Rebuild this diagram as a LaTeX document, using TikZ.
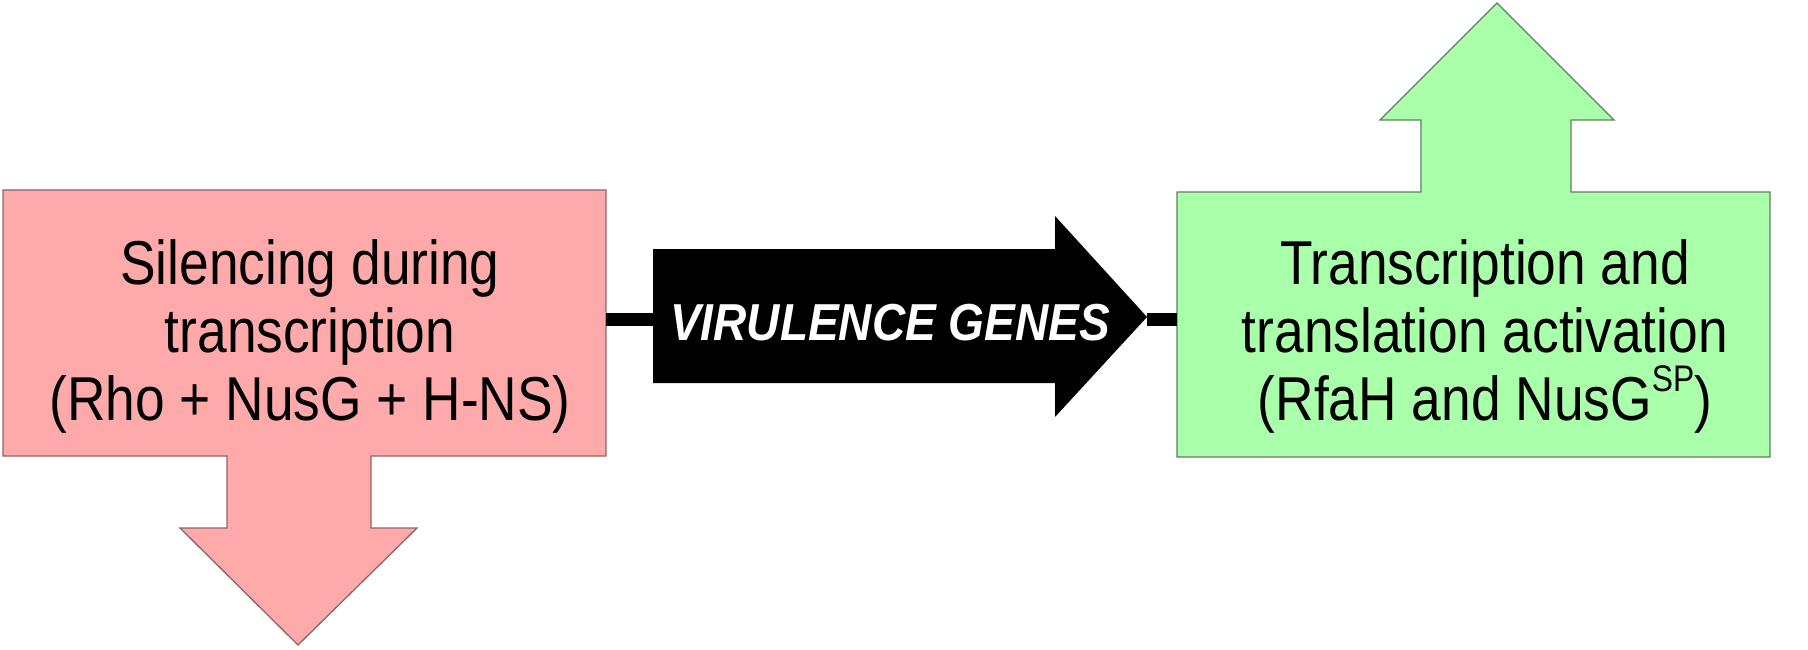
\documentclass[tikz,border=0pt]{standalone}
\usepackage{fontspec}
\setmainfont{Liberation Sans}[FakeStretch=0.86]
\newfontfamily\genefont{Liberation Sans}[FakeStretch=0.885]
\definecolor{pinkfill}{HTML}{FFAAAA}
\definecolor{pinkline}{HTML}{8C6464}
\definecolor{greenfill}{HTML}{AAFFAA}
\definecolor{greenline}{HTML}{5F7F5F}
\begin{document}
\begin{tikzpicture}[x=1pt,y=-1pt,
  pinkshape/.style={fill=pinkfill,draw=pinkline,line width=1.3pt,line join=miter},
  greenshape/.style={fill=greenfill,draw=greenline,line width=1.3pt,line join=miter},
  blackshape/.style={fill=black,draw=none},
  connector/.style={draw=black,line width=13pt,line cap=butt},
  boxframe/.style={draw=none,inner sep=0pt,outer sep=0pt},
  boxtext/.style={align=center,inner sep=0pt,font=\fontsize{62}{68}\selectfont},
  genetext/.style={inner sep=0pt,text=white,font=\genefont\bfseries\itshape\fontsize{52}{60}\selectfont}
]
\useasboundingbox (0,0) rectangle (1808,650);

% left pink box with downward arrow
\path[pinkshape] (3,190) -- (606,190) -- (606,456) -- (371,456) -- (371,528)
  -- (417,528) -- (298,645) -- (180,528) -- (227,528) -- (227,456) -- (3,456) -- cycle;
\node[boxframe,minimum width=603pt,minimum height=266pt] (silence) at (304.5,323) {};
\node[boxtext] (silencetext) at (310,336) {Silencing during\\transcription\\(Rho + NusG + H-NS)};

% right green box with upward arrow
\path[greenshape] (1177,192) -- (1421,192) -- (1421,120) -- (1380,120) -- (1497,3)
  -- (1614,120) -- (1571,120) -- (1571,192) -- (1770,192) -- (1770,457) -- (1177,457) -- cycle;
\node[boxframe,minimum width=593pt,minimum height=265pt] (activation) at (1473.5,324.5) {};
\node[boxtext] (activationtext) at (1485,336) {Transcription and\\translation activation\\(RfaH and NusG\raisebox{29pt}{\fontsize{37}{37}\selectfont SP})};

% black arrow
\path[blackshape] (653,249) -- (1055,249) -- (1055,216) -- (1147,317) -- (1055,417)
  -- (1055,383) -- (653,383) -- cycle;
\coordinate (genestart) at (653,319);
\coordinate (genetip) at (1147,319);
\node[genetext] (virulence) at (890,323) {VIRULENCE GENES};

% connectors
\draw[connector] (silence.east |- genestart) -- (genestart);
\draw[connector] (genetip) -- (activation.west |- genetip);
\end{tikzpicture}
\end{document}
